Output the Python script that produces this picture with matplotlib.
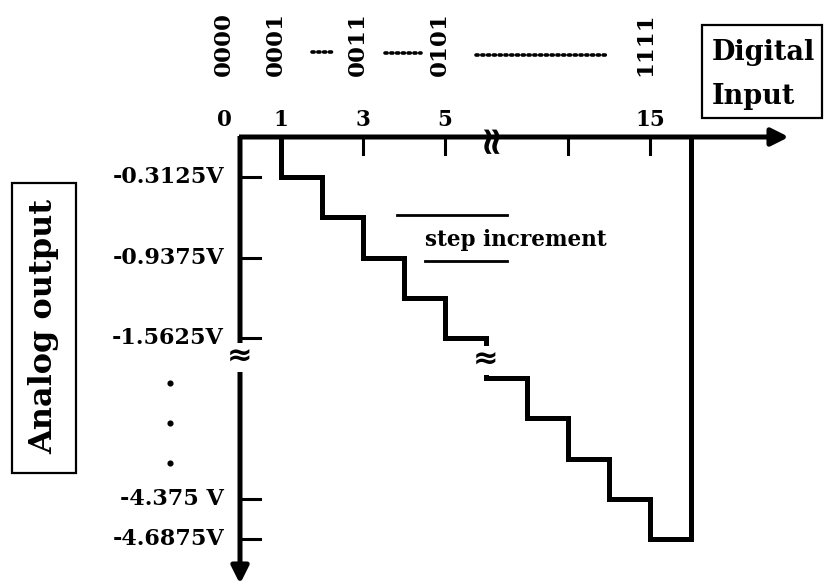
import matplotlib
matplotlib.use("Agg")
import matplotlib.pyplot as plt
from matplotlib.patches import Rectangle

# ---------------- data ----------------
lsb_volts = 0.3125
stair_codes = [1, 2, 3, 4, 5, 11, 12, 13, 14, 15]          # codes drawn in the staircase
stair_volts = [-0.3125, -0.625, -0.9375, -1.25, -1.5625,
               -3.4375, -3.75, -4.0625, -4.375, -4.6875]   # analog output per code
end_code = 16
x_label_codes = [0, 1, 3, 5, 15]
x_label_text = ["0", "1", "3", "5", "15"]
binary_text = ["0000", "0001", "0011", "0101", "1111"]
x_tick_codes = [3, 5, 13, 15]
y_tick_codes = [1, 3, 5, 14, 15]
y_tick_text = ["-0.3125V", "-0.9375V", "-1.5625V", "-4.375 V", "-4.6875V"]
dot_codes = [11, 12, 13]
break_after = 5      # codes 6..10 hidden by the axis break
hidden = 5

# ---------------- broken-axis mapping ----------------
def xpos(code):
    return code if code <= break_after else code - hidden

def level(volt):
    q = -volt / lsb_volts
    return -(q if q <= break_after + 1e-9 else q - hidden)

# ---------------- layout (pixels) ----------------
W, H = 825, 584
X0, DX, Y0, DY = 240, 41.0, 137, 40.2
px = lambda x: (x - X0) / DX
py = lambda y: -(y - Y0) / DY

fig = plt.figure(figsize=(W / 100, H / 100), dpi=100)
ax = fig.add_axes([0, 0, 1, 1])
ax.set_xlim(px(0), px(W))
ax.set_ylim(py(H), py(0))
ax.axis("off")

FONT = "DejaVu Serif"
LW = 3.6

# staircase
xs = [xpos(c) for c in stair_codes] + [xpos(end_code)]
ys = [level(v) for v in stair_volts]
path_x, path_y = [xs[0]], [0]
for i, yv in enumerate(ys):
    path_x += [xs[i], xs[i + 1]]
    path_y += [yv, yv]
path_x.append(xs[-1]); path_y.append(0)
ax.plot(path_x, path_y, color="black", lw=LW, solid_joinstyle="miter",
        solid_capstyle="butt", zorder=3)

# axes with arrows
ax.annotate("", xy=(px(789), 0), xytext=(px(X0 - 1), 0),
            arrowprops=dict(arrowstyle="-|>", lw=LW, color="black",
                            mutation_scale=26, shrinkA=0, shrinkB=0,
                            capstyle="butt"))
ax.annotate("", xy=(0, py(584)), xytext=(0, py(Y0 - 1)),
            arrowprops=dict(arrowstyle="-|>", lw=LW, color="black",
                            mutation_scale=26, shrinkA=0, shrinkB=0,
                            capstyle="butt"))

# x ticks
for c in x_tick_codes:
    ax.plot([xpos(c), xpos(c)], [0, py(Y0 + 17)], color="black", lw=2.2)
# y ticks
for c in y_tick_codes:
    lv = level(-c * lsb_volts)
    ax.plot([0, px(X0 + 20)], [lv, lv], color="black", lw=2.2)

# x labels
for c, t in zip(x_label_codes, x_label_text):
    xp = xpos(c) if c > 0 else px(224)
    ax.text(xp, py(120), t, ha="center", va="center", fontsize=15.5,
            fontweight="bold", family=FONT)
for c, t in zip(x_label_codes, binary_text):
    xp = xpos(c) - 0.12 if c > 0 else px(224)
    ax.text(xp, py(44), t, ha="center", va="center", rotation=90,
            fontsize=16.5, fontweight="bold", family=FONT)

# dotted separators on the top
dot_style = dict(color="black", lw=2.6, linestyle=(0, (0.6, 1.0)),
                 dash_capstyle="round")
ax.plot([px(312), px(333)], [py(52), py(52)], **dot_style)
ax.plot([px(385), px(421)], [py(53), py(53)], **dot_style)
ax.plot([px(476), px(607)], [py(55), py(55)], **dot_style)

# y labels
for c, t in zip(y_tick_codes, y_tick_text):
    lv = level(-c * lsb_volts)
    ax.text(px(224), lv, t, ha="right", va="center", fontsize=16,
            fontweight="bold", family=FONT)
for c in dot_codes:
    ax.plot([px(170)], [level(-c * lsb_volts) - 0.12], marker="o",
            markersize=3.4, color="black")

# break marks
brk = dict(ha="center", va="center", fontweight="bold",
           family="DejaVu Sans", color="black", zorder=5)
ax.text(px(489), py(137), "≈", rotation=90, fontsize=28, **brk)
ax.text(0, py(357), "≈", fontsize=22,
        bbox=dict(boxstyle="square,pad=0.0", fc="white", ec="none"), **brk)
ax.text(xpos(11), py(360), "≈", fontsize=22,
        bbox=dict(boxstyle="square,pad=0.0", fc="white", ec="none"), **brk)

# step increment annotation
ax.plot([px(397), px(507)], [py(215), py(215)], color="black", lw=2.0)
ax.plot([px(425), px(507)], [py(261), py(261)], color="black", lw=2.0)
ax.text(px(425), py(240), "step increment", ha="left", va="center",
        fontsize=15.5, fontweight="bold", family=FONT)

# Digital Input box
ax.add_patch(Rectangle((px(702), py(118)), px(822) - px(702), py(25) - py(118),
                       fill=False, ec="black", lw=1.6))
ax.text(px(712), py(52), "Digital", ha="left", va="center", fontsize=19.5,
        fontweight="bold", family=FONT)
ax.text(px(712), py(97), "Input", ha="left", va="center", fontsize=19.5,
        fontweight="bold", family=FONT)

# Analog output box
ax.add_patch(Rectangle((px(12), py(473)), px(76) - px(12), py(183) - py(473),
                       fill=False, ec="black", lw=1.6))
ax.text(px(44), py(326), "Analog output", ha="center", va="center",
        rotation=90, fontsize=23, fontweight="bold", family=FONT)

fig.savefig("out.png", dpi=100)
